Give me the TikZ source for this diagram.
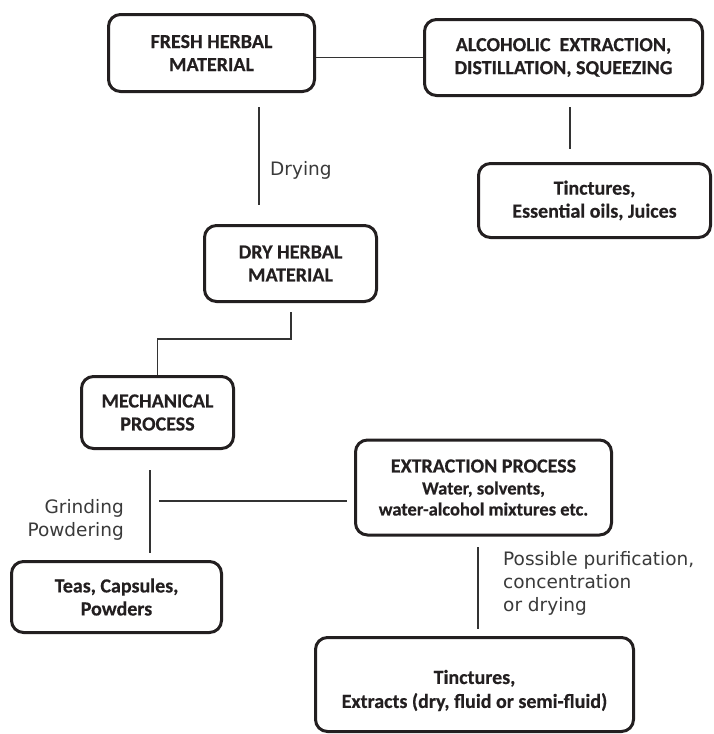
\documentclass[tikz,border=0pt]{standalone}
\usepackage{fontspec}
\setmainfont{Carlito}[BoldFeatures={FakeBold=0.4}]
\newfontfamily\lblfont{DejaVu Sans}
\definecolor{txt}{HTML}{231F20}
\definecolor{boxc}{HTML}{231F20}
\definecolor{linec}{HTML}{333333}
\definecolor{lblc}{HTML}{3A3A3A}
\begin{document}
\begin{tikzpicture}[x=1pt,y=-1pt,
  box/.style={draw=boxc, line width=3pt, rounded corners=12pt, align=center,
    text=txt, font=\fontsize{20}{23}\selectfont\bfseries, inner sep=0pt},
  boxtext/.style={align=center, text=txt, font=\fontsize{20}{23}\selectfont\bfseries, inner sep=0pt},
  conn/.style={draw=linec, line width=1.1pt},
  lbl/.style={text=lblc, font=\fontsize{18.5}{23}\selectfont\lblfont, inner sep=0pt}]
\useasboundingbox (0,0) rectangle (713,734);
\fill[white] (0,0) rectangle (713,734);

\node[box, minimum width=206pt, minimum height=77pt] (fresh) at (211.5,53) {FRESH HERBAL\\MATERIAL};
\node[box, minimum width=278pt, minimum height=76pt] (alco) at (563.5,57.5) {ALCOHOLIC\ \ EXTRACTION,\\DISTILLATION, SQUEEZING};
\node[box, minimum width=232pt, minimum height=74pt] (tinct) at (594.5,200.5) {Tinctures,\\Essential oils, Juices};
\node[box, minimum width=172pt, minimum height=76pt] (dry) at (290.5,263.5) {DRY HERBAL\\MATERIAL};
\node[box, minimum width=152pt, minimum height=72pt] (mech) at (157.5,412.5) {MECHANICAL\\PROCESS};
\node[box, minimum width=210pt, minimum height=71pt] (teas) at (116.5,597) {Teas, Capsules,\\Powders};
\node[box, minimum width=256pt, minimum height=95pt] (extr) at (483.5,487.5) {EXTRACTION PROCESS\\[-1pt]
  \fontsize{18.5}{20}\selectfont Water, solvents,\\[-2pt]
  \fontsize{18.5}{20}\selectfont water-alcohol mixtures etc.};
\node[box, minimum width=318pt, minimum height=94pt] (final) at (474.5,684.5) {};
\node[boxtext] (finaltxt) at ([yshift=-6pt]final.center) {Tinctures,\\[1pt]Extracts (dry, fluid or semi-fluid)};

% free line ends
\coordinate (dA) at (259,107);
\coordinate (dB) at (259,205);
\coordinate (aA) at (570,107);
\coordinate (aB) at (570,149);
\coordinate (mA) at (291,312);
\coordinate (mB) at (291,339);
\coordinate (gA) at (150,470);
\coordinate (gB) at (150,553);
\coordinate (hA) at (159,501);
\coordinate (hB) at (347,501);
\coordinate (eA) at (478,547);
\coordinate (eB) at (478,629);

\draw[conn] (fresh.east |- alco.west) -- (alco.west);
\draw[conn] (dA) -- (dB);
\draw[conn] (aA) -- (aB);
\draw[conn] (mA) -- (mB) -| (mech.north);
\draw[conn] (gA) -- (gB);
\draw[conn] (hA) -- (hB);
\draw[conn] (eA) -- (eB);

\node[lbl, anchor=west] (ldry) at (270,170) {Drying};
\node[lbl, anchor=east, align=right] (lgrind) at (124,520) {Grinding\\Powdering};
\node[lbl, anchor=west, align=left] (lposs) at (503,583) {Possible purification,\\concentration\\or drying};
\end{tikzpicture}
\end{document}
